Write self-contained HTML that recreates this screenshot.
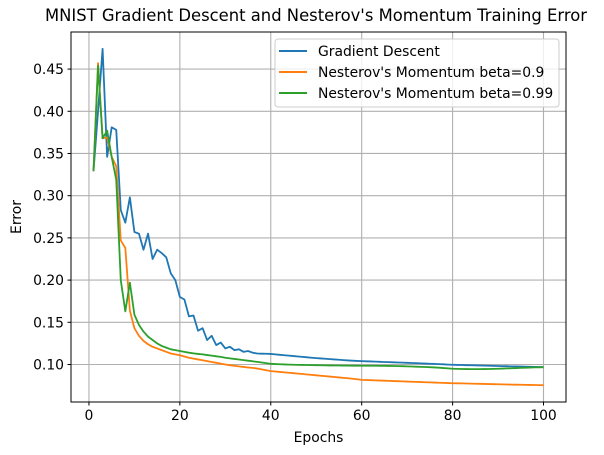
<!DOCTYPE html>
<html><head><meta charset="utf-8"><style>
body{margin:0;background:#fff;}
svg{display:block;font-family:"DejaVu Sans","Liberation Sans",sans-serif;}
</style></head><body>
<svg id="chart" width="604" height="455" viewBox="0 0 604 455" xmlns="http://www.w3.org/2000/svg">
<rect width="604" height="455" fill="#fff"/>
<text x="316" y="21" font-size="16.4" text-anchor="middle" fill="#000">MNIST Gradient Descent and Nesterov's Momentum Training Error</text>
<g id="grid"></g>
<g id="series"></g>
<rect x="71" y="32" width="495" height="370" fill="none" stroke="#000" stroke-width="1"/>
<g id="ticks"></g>
<text x="318.5" y="442" font-size="13.9" text-anchor="middle">Epochs</text>
<text x="21" y="217" font-size="13.9" text-anchor="middle" transform="rotate(-90 21 217)">Error</text>
<g>
<rect x="275" y="39" width="284" height="68" rx="3" fill="#fff" fill-opacity="0.8" stroke="#ccc"/>
<g><line x1="279" y1="51" x2="307" y2="51" stroke="#1f77b4" stroke-width="2"/><text x="318" y="56" font-size="13.9">Gradient Descent</text></g>
<g><line x1="279" y1="72" x2="307" y2="72" stroke="#ff7f0e" stroke-width="2"/><text x="318" y="77" font-size="13.9">Nesterov's Momentum beta=0.9</text></g>
<g><line x1="279" y1="93" x2="307" y2="93" stroke="#2ca02c" stroke-width="2"/><text x="318" y="98" font-size="13.9">Nesterov's Momentum beta=0.99</text></g>
</g>
</svg>
<script>
const xTicks=[0,20,40,60,80,100];
const yTicks=[0.10,0.15,0.20,0.25,0.30,0.35,0.40,0.45];
const gd=[.329,.400,.474,.346,.381,.378,.283,.268,.298,.257,.255,.236,.255,.225,.236,.232,.227,.208,.200,.180,.177,.157,.158,.140,.143,.129,.134,.123,.126,.119,.121,.117,.118,.115,.116,.114,.113,.1128,.1127,.1125,.112,.1115,.111,.1105,.110,.1095,.109,.1085,.108,.1076,.1072,.1068,.1064,.106,.1056,.1052,.1048,.1045,.1042,.104,.1038,.1036,.1034,.1032,.103,.1028,.1026,.1024,.1022,.102,.1018,.1016,.1013,.1011,.1009,.1007,.1004,.1002,.0999,.0997,.0995,.0994,.0992,.0991,.099,.0988,.0987,.0985,.0984,.0982,.0981,.098,.0978,.0977,.0976,.0974,.0973,.0971,.097,.0968];
const nm09=[.329,.457,.368,.369,.346,.335,.247,.238,.164,.143,.134,.128,.124,.121,.119,.117,.115,.113,.112,.111,.1095,.108,.107,.106,.105,.104,.103,.102,.101,.100,.0992,.0985,.0978,.0971,.0965,.096,.0952,.0942,.0932,.0922,.0917,.0912,.0907,.0902,.0897,.0892,.0887,.0882,.0877,.0872,.0867,.0862,.0857,.0852,.0847,.0842,.0837,.0831,.0825,.0818,.0816,.0814,.0812,.081,.0808,.0806,.0804,.0802,.08,.0798,.0796,.0794,.0792,.079,.0788,.0786,.0784,.0782,.078,.0778,.0777,.0776,.0775,.0773,.0772,.0771,.077,.0768,.0767,.0766,.0765,.0763,.0762,.0761,.076,.0759,.0758,.0757,.0756,.0755];
const nm099=[.329,.454,.368,.377,.346,.319,.200,.163,.197,.159,.147,.139,.133,.129,.125,.122,.120,.118,.117,.116,.115,.114,.1132,.1125,.112,.1112,.1105,.1097,.109,.108,.1073,.1066,.1059,.1052,.1045,.1038,.1031,.1024,.1016,.1008,.1005,.1003,.1001,.0999,.0997,.0996,.0995,.0994,.0993,.0992,.0991,.099,.0989,.0988,.0988,.0987,.0987,.0986,.0986,.0985,.0985,.0985,.0985,.0984,.0984,.0983,.0982,.0981,.098,.0978,.0976,.0974,.0972,.097,.0968,.0965,.0962,.0958,.0954,.095,.0948,.0947,.0946,.0945,.0945,.0945,.0946,.0947,.0948,.095,.0952,.0954,.0956,.0958,.096,.0962,.0964,.0966,.0967,.0968];
const NS='http://www.w3.org/2000/svg';
const L=71,R=566,T=32,B=402;
const xmin=-3.95,xmax=104.95;
const allV=gd.concat(nm09,nm099);
const vmin=Math.min(...allV),vmax=Math.max(...allV),pad=(vmax-vmin)*0.05;
const ymin=vmin-pad,ymax=vmax+pad;
function sx(v){return L+(v-xmin)/(xmax-xmin)*(R-L);}
function sy(v){return B-(v-ymin)/(ymax-ymin)*(B-T);}
function mk(tag,attrs,parent){const e=document.createElementNS(NS,tag);for(const k in attrs)e.setAttribute(k,attrs[k]);parent.appendChild(e);return e;}
const grid=document.getElementById('grid'),ticks=document.getElementById('ticks'),series=document.getElementById('series');
xTicks.forEach(t=>{const x=sx(t);
const g=mk('line',{x1:x,x2:x,y1:T,y2:B,stroke:'#b0b0b0','stroke-width':1.1},grid);


const tk=mk('line',{x1:x,x2:x,y1:B,y2:B+3.5,stroke:'#000'},ticks);


const lb=mk('text',{x:x,y:B+18,'font-size':13.9,'text-anchor':'middle'},ticks);lb.textContent=t;

});
yTicks.forEach(t=>{const y=sy(t);
const g=mk('line',{x1:L,x2:R,y1:y,y2:y,stroke:'#b0b0b0','stroke-width':1.1},grid);


const tk=mk('line',{x1:L-3.5,x2:L,y1:y,y2:y,stroke:'#000'},ticks);


const lb=mk('text',{x:L-7,y:y+5,'font-size':13.9,'text-anchor':'end'},ticks);lb.textContent=t.toFixed(2);

});
[[gd,'#1f77b4','line-gradient-descent'],[nm09,'#ff7f0e','line-nesterov-0-9'],[nm099,'#2ca02c','line-nesterov-0-99']].forEach(([d,c,n])=>{
const pts=d.map((v,i)=>sx(i+1).toFixed(2)+','+sy(v).toFixed(2)).join(' ');
const p=mk('polyline',{points:pts,fill:'none',stroke:c,'stroke-width':1.8,'stroke-linejoin':'round'},series);

});
</script>
</body></html>
